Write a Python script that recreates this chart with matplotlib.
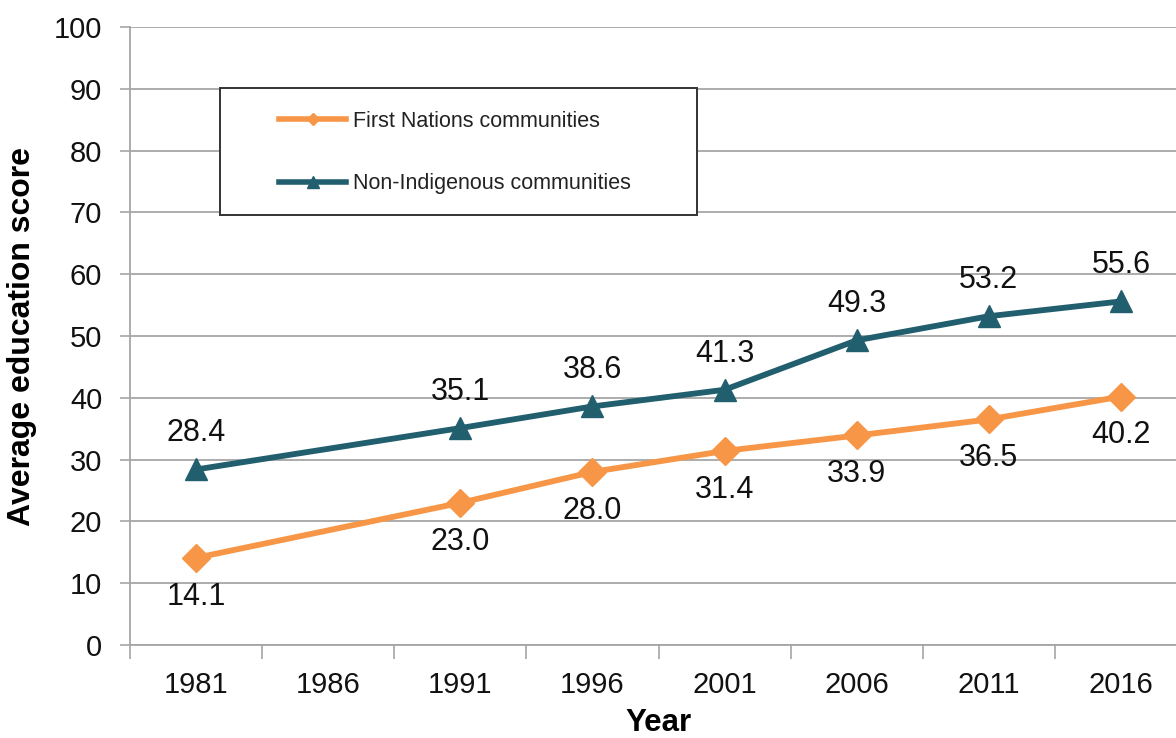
import matplotlib
matplotlib.use("Agg")
import matplotlib.pyplot as plt
from matplotlib.lines import Line2D
from matplotlib.patches import Rectangle

plt.rcParams['font.family'] = ['Liberation Sans', 'DejaVu Sans']

categories = ["1981", "1986", "1991", "1996", "2001", "2006", "2011", "2016"]
data_years = ["1981", "1991", "1996", "2001", "2006", "2011", "2016"]
first_nations = [14.1, 23.0, 28.0, 31.4, 33.9, 36.5, 40.2]
non_indigenous = [28.4, 35.1, 38.6, 41.3, 49.3, 53.2, 55.6]
series_names = ["First Nations communities", "Non-Indigenous communities"]
y_ticks = list(range(0, 101, 10))

orange = "#F79646"
teal = "#215E6E"
grid_c = "#A6A6A6"

fig = plt.figure(figsize=(11.76, 7.38), dpi=100)
ax = fig.add_axes([130/1176, 1-645/738, 1057/1176, 618/738])

xpos = [categories.index(y) for y in data_years]

ax.plot(xpos, first_nations, color=orange, lw=4.2, marker='D', ms=14,
        mec=orange, mfc=orange, zorder=3, solid_capstyle='round')
ax.plot(xpos, non_indigenous, color=teal, lw=4.2, marker='^', ms=16,
        mec=teal, mfc=teal, zorder=3, solid_capstyle='round')

for x, v in zip(xpos, first_nations):
    ax.annotate(f"{v:.1f}", (x, v), xytext=(0, -28), textcoords='offset points',
                ha='center', va='center', fontsize=22, color='#111111')
for x, v in zip(xpos, non_indigenous):
    ax.annotate(f"{v:.1f}", (x, v), xytext=(0, 26), textcoords='offset points',
                ha='center', va='center', fontsize=22, color='#111111')

ax.set_xlim(-0.5, len(categories) - 0.5)
ax.set_ylim(0, 100)
ax.set_yticks(y_ticks)
ax.set_yticklabels([str(t) for t in y_ticks])
ax.set_xticks(range(len(categories)))
ax.set_xticklabels(categories)
ax.set_xticks([i - 0.5 for i in range(len(categories) + 1)], minor=True)

ax.tick_params(axis='x', which='major', length=0, pad=19, labelsize=21, colors='#111111')
ax.tick_params(axis='x', which='minor', length=10, width=1.2, color=grid_c)
ax.tick_params(axis='y', length=7, width=1.2, color=grid_c, pad=13, labelsize=21, labelcolor='#111111')

ax.grid(axis='y', color=grid_c, lw=1.3, zorder=0)
ax.set_axisbelow(True)
for s in ['top', 'right']:
    ax.spines[s].set_visible(False)
for s in ['left', 'bottom']:
    ax.spines[s].set_color(grid_c)
    ax.spines[s].set_linewidth(1.3)

ax.set_xlabel("Year", fontsize=22.5, fontweight='bold', labelpad=6)
ax.set_ylabel("Average education score", fontsize=23, fontweight='bold', labelpad=12)

# legend frame
bx0 = (220 - 130) / 1057
by0 = (645 - 215) / 618
bw = (697 - 220) / 1057
bh = (215 - 88) / 618
ax.add_patch(Rectangle((bx0, by0), bw, bh, transform=ax.transAxes,
                       facecolor='white', edgecolor='#333333', lw=1.4, zorder=4))
handles = [
    Line2D([0], [0], color=orange, lw=4, marker='D', ms=6, mfc=orange, mec=orange),
    Line2D([0], [0], color=teal, lw=4, marker='^', ms=8, mfc=teal, mec=teal),
]
leg = ax.legend(handles, series_names, loc='center',
                bbox_to_anchor=((455 - 130) / 1057, (645 - 152.5) / 618),
                frameon=False, fontsize=15.5, handlelength=3.1, handletextpad=0.3,
                labelspacing=1.95)
leg.set_zorder(5)
for t in leg.get_texts():
    t.set_color('#222222')

fig.savefig("out.png", dpi=100)
